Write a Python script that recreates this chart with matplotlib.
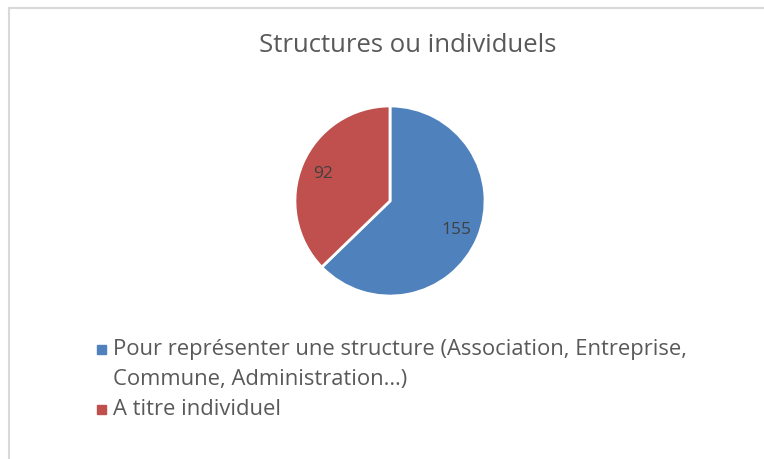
import matplotlib
matplotlib.use('Agg')
from matplotlib import pyplot as plt
from matplotlib.patches import Rectangle
from matplotlib.lines import Line2D

plt.rcParams['font.family'] = ['Open Sans', 'DejaVu Sans']

title = 'Structures ou individuels'
labels = ['Pour représenter une structure (Association, Entreprise,\nCommune, Administration…)',
          'A titre individuel']
values = [155, 92]
colors = ['#4F81BD', '#C0504D']

W, H = 764, 460
fig = plt.figure(figsize=(W / 100, H / 100), dpi=100)

# light frame (top and left edges are visible in the crop)
fig.add_artist(Line2D([9 / W, 9 / W], [0, 1 - 9 / H], color='#D9D9D9', lw=1.5))
fig.add_artist(Line2D([9 / W, 1], [1 - 9 / H, 1 - 9 / H], color='#D9D9D9', lw=1.5))

fig.text(408 / W, 1 - 46 / H, title, ha='center', va='center',
         fontsize=18.5, color='#595959')

r = 96
ax = fig.add_axes([(390 - r) / W, 1 - (202 + r) / H, 2 * r / W, 2 * r / H])
wedges, texts, autotexts = ax.pie(values, colors=colors, startangle=90,
                                  counterclock=False, radius=1,
                                  autopct=lambda p: '%d' % round(p * sum(values) / 100),
                                  pctdistance=0.76,
                                  wedgeprops=dict(edgecolor='white', linewidth=2))
for t in autotexts:
    t.set_fontsize(12.5)
    t.set_color('#404040')
ax.set_xlim(-1.01, 1.01)
ax.set_ylim(-1.01, 1.01)
ax.set_aspect('equal')
ax.axis('off')

# legend, drawn by hand so the swatch sits on the first line
y = 350
step = 30
for lab, col in zip(labels, colors):
    fig.add_artist(Rectangle((97 / W, 1 - (y + 5) / H), 9 / W, 9 / H,
                             transform=fig.transFigure, color=col))
    for line in lab.split('\n'):
        fig.text(113 / W, 1 - y / H, line, ha='left', va='center',
                 fontsize=15.8, color='#595959')
        y += step

fig.savefig('out.png', dpi=100)
